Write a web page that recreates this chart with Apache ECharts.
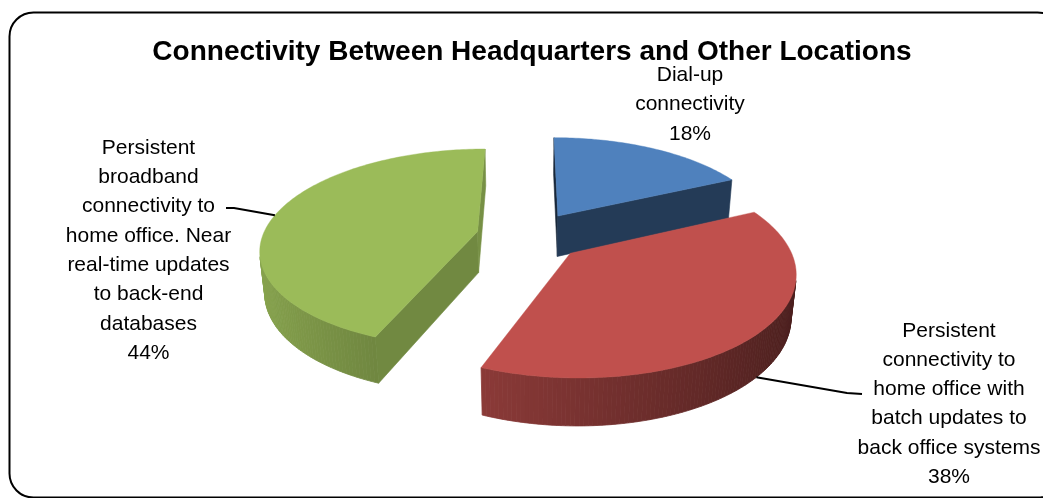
<!DOCTYPE html>
<html>
<head>
<meta charset="utf-8">
<script src="https://cdn.jsdelivr.net/npm/echarts@6/dist/echarts.min.js"></script>
<style>
html,body{margin:0;padding:0;background:#ffffff;}
#chart{width:1043px;height:498px;}
</style>
</head>
<body>
<div id="chart"></div>
<script>
// ---------- data ----------
const titleText = 'Connectivity Between Headquarters and Other Locations';
const categories = [
  'Dial-up\nconnectivity',
  'Persistent\nconnectivity to\nhome office with\nbatch updates to\nback office systems',
  'Persistent\nbroadband\nconnectivity to\nhome office. Near\nreal-time updates\nto back-end\ndatabases'
];
const values = [18, 38, 44];
const colors = ['#4F81BD', '#C0504D', '#9BBB59'];

// ---------- layout (3D view + label placement) ----------
const view = { cx: 530, cy: 236, phi: 27, distance: 5.35, focal: 1150, depth: 0.22, explode: 0.25 };
const labelLayout = [
  { x: 690, y: 104.5, leader: null },
  { x: 949, y: 404, leader: { angle: 132, bottom: true, bend: [847, 393], end: [862, 394] } },
  { x: 148.5, y: 250.5, leader: { angle: 280, bottom: false, bend: [234, 208], end: [226, 208] } }
];
const labelFont = '21px "Liberation Sans", Arial, sans-serif';

const sinP = Math.sin(view.phi * Math.PI / 180);
const cosP = Math.cos(view.phi * Math.PI / 180);
const cam = [0, view.distance * sinP, -view.distance * cosP];

function project(X, Y, Z) {
  const yc = Y * cosP + Z * sinP;
  const zc = view.distance + Z * cosP - Y * sinP;
  return [view.cx + view.focal * X / zc, view.cy - view.focal * yc / zc];
}
function shade(hex, b) {
  const n = parseInt(hex.slice(1), 16);
  const r = Math.round(((n >> 16) & 255) * b);
  const g = Math.round(((n >> 8) & 255) * b);
  const bl = Math.round((n & 255) * b);
  return 'rgb(' + r + ',' + g + ',' + bl + ')';
}
const clamp = (v, lo, hi) => Math.max(lo, Math.min(hi, v));

function renderItem(params, api) {
  const i = params.dataIndex;
  const total = values.reduce((a, b) => a + b, 0);
  let before = 0;
  for (let k = 0; k < i; k++) before += values[k];
  const v = api.value(0);
  const a0 = before / total * 2 * Math.PI;
  const a1 = (before + v) / total * 2 * Math.PI;
  const mid = (a0 + a1) / 2;
  const ox = view.explode * Math.sin(mid);
  const oz = view.explode * Math.cos(mid);
  const H = view.depth;
  const base = Math.round((0.3 - oz) * 1000);
  const P = (th, Y, r) => {
    const rr = (r === undefined) ? 1 : r;
    return project(ox + rr * Math.sin(th), Y, oz + rr * Math.cos(th));
  };
  const visible = (n, p) =>
    n[0] * (cam[0] - p[0]) + n[1] * (cam[1] - p[1]) + n[2] * (cam[2] - p[2]) > 0;

  const children = [];
  const steps = Math.max(8, Math.ceil((a1 - a0) / (Math.PI / 180)));

  // outer curved wall
  for (let s = 0; s < steps; s++) {
    const t0 = a0 + (a1 - a0) * s / steps;
    const t1 = a0 + (a1 - a0) * (s + 1) / steps;
    const tm = (t0 + t1) / 2;
    const n = [Math.sin(tm), 0, Math.cos(tm)];
    const p = [ox + Math.sin(tm), -H / 2, oz + Math.cos(tm)];
    if (!visible(n, p)) continue;
    const c = shade(colors[i], clamp(0.63 - 0.25 * n[0], 0.3, 0.9));
    children.push({
      type: 'polygon', z2: base,
      shape: { points: [P(t0, 0), P(t1, 0), P(t1, -H), P(t0, -H)] },
      style: { fill: c, stroke: c, lineWidth: 0.8 }
    });
  }
  // radial walls
  [[a0, [-Math.cos(a0), 0, Math.sin(a0)]], [a1, [Math.cos(a1), 0, -Math.sin(a1)]]].forEach(function (w) {
    const a = w[0], n = w[1];
    const p = [ox + 0.5 * Math.sin(a), -H / 2, oz + 0.5 * Math.cos(a)];
    if (!visible(n, p)) return;
    const c = shade(colors[i], clamp(0.23 + 0.54 * n[0], 0.3, 0.85));
    children.push({
      type: 'polygon', z2: base,
      shape: { points: [P(a, 0, 0), P(a, 0), P(a, -H), P(a, -H, 0)] },
      style: { fill: c, stroke: c, lineWidth: 0.6 }
    });
  });
  // top face
  const top = [P(0, 0, 0)];
  for (let s = 0; s <= steps; s++) top.push(P(a0 + (a1 - a0) * s / steps, 0));
  children.push({
    type: 'polygon', z2: base + 1,
    shape: { points: top },
    style: { fill: colors[i], stroke: colors[i], lineWidth: 0.4 }
  });

  // label + leader
  const lay = labelLayout[i];
  const pct = Math.round(v / total * 100) + '%';
  children.push({
    type: 'text', z2: 2000,
    style: {
      x: lay.x, y: lay.y,
      text: categories[i] + '\n' + pct,
      font: labelFont, fill: '#000000',
      align: 'center', verticalAlign: 'middle',
      textAlign: 'center', textVerticalAlign: 'middle',
      lineHeight: 29.3
    }
  });
  if (lay.leader) {
    const th = lay.leader.angle * Math.PI / 180;
    const start = P(th, lay.leader.bottom ? -H : 0);
    children.push({
      type: 'polyline', z2: 1999,
      shape: { points: [start, lay.leader.bend, lay.leader.end] },
      style: { stroke: '#000000', lineWidth: 2, fill: null }
    });
  }
  return { type: 'group', children: children };
}

const chart = echarts.init(document.getElementById('chart'), null, { renderer: 'canvas' });
chart.setOption({
  backgroundColor: '#ffffff',
  animation: false,
  graphic: [
    {
      type: 'rect', z: -1, silent: true,
      shape: { x: 9.5, y: 12.5, width: 1052, height: 485, r: 24 },
      style: { fill: '#ffffff', stroke: '#000000', lineWidth: 2 }
    },
    {
      type: 'text', z: 10,
      x: 532, y: 52,
      style: {
        text: titleText,
        font: 'bold 28px "Liberation Sans", Arial, sans-serif',
        fill: '#000000',
        textAlign: 'center', textVerticalAlign: 'middle',
        align: 'center', verticalAlign: 'middle'
      }
    }
  ],
  series: [{
    type: 'custom',
    coordinateSystem: 'none',
    renderItem: renderItem,
    data: values.map(function (v, k) { return { name: categories[k], value: [v] }; })
  }]
});
</script>
</body>
</html>
